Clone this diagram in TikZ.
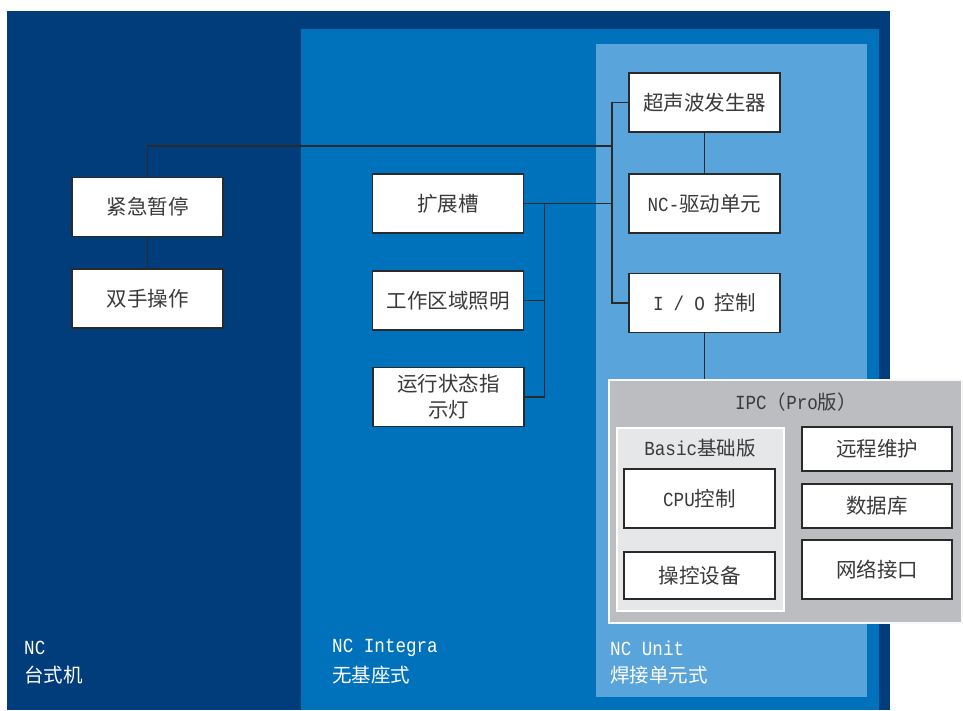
\documentclass[tikz,border=0pt]{standalone}
\usepackage{fontspec}
\setmainfont{Noto Sans CJK SC}
\newfontfamily\lat[FakeStretch=0.88]{Liberation Mono}
\definecolor{darkb}{HTML}{013D7B}
\definecolor{medb}{HTML}{0071BB}
\definecolor{lightb}{HTML}{59A4DA}
\definecolor{ipcgray}{HTML}{BCBDC0}
\definecolor{basicgray}{HTML}{E6E7E8}
\definecolor{boxline}{HTML}{2A2A2A}
\definecolor{txt}{HTML}{3A3A3A}
\newcommand{\lt}[1]{{\lat\fontsize{20}{22}\selectfont #1}}
\begin{document}
\begin{tikzpicture}[x=1pt,y=-1pt,
  box/.style={draw=boxline, fill=white, line width=1.4pt, inner sep=0pt,
    text=txt, font=\fontsize{20.5}{26}\selectfont, align=center,
    minimum width=151pt, minimum height=59pt},
  link/.style={draw=boxline, line width=1.4pt},
  lbl/.style={anchor=west, text=white, font=\fontsize{19.5}{22}\selectfont, inner sep=0pt},
  ttl/.style={text=txt, font=\fontsize{19.5}{22}\selectfont, inner sep=0pt}]
\useasboundingbox (0,0) rectangle (963,710);
\fill[white] (0,0) rectangle (963,710);
% panels
\fill[darkb] (7,11) rectangle (890,710);
\fill[medb] (301,29) rectangle (879,710);
\fill[lightb] (596,44) rectangle (867,697);

% left column
\node[box] (jj) at (147.5,207) {紧急暂停};
\node[box] (sh) at (147.5,298.5) {双手操作};
% middle column
\node[box] (kz) at (448,203.5) {扩展槽};
\node[box] (gz) at (448,300.5) {工作区域照明};
\node[box, font=\fontsize{20.5}{26}\selectfont] (yx) at (448.5,397) {运行状态指\\示灯};
% right column
\node[box] (cs) at (704.5,102.5) {超声波发生器};
\node[box] (nc) at (704.5,203.5) {\lt{NC-}驱动单元};
\node[box] (io) at (704.5,303) {\lt{I\hspace{10pt}/\hspace{10pt}O}\hspace{10pt}控制};

% IPC
\node[draw=white!90!ipcgray, fill=ipcgray, line width=1.5pt, minimum width=353pt, minimum height=243pt, inner sep=0pt] (ipc) at (785.5,501.5) {};
\node[ttl] (ipct) at (796,402) {\lt{IPC}（\lt{Pro}版）};
\node[draw=white, fill=basicgray, line width=1.5pt, minimum width=167pt, minimum height=183pt, inner sep=0pt] (basic) at (700.5,519.5) {};
\node[ttl] (basict) at (700,448) {\lt{Basic}基础版};
\node[box] (cpu) at (699.5,498.5) {\lt{CPU}控制};
\node[box, minimum height=47pt] (ck) at (699.5,575.5) {操控设备};
\node[box, minimum width=150pt, minimum height=44pt] (yc) at (877,449) {远程维护};
\node[box, minimum width=150pt, minimum height=44pt] (sj) at (877,506) {数据库};
\node[box, minimum width=150pt, minimum height=59pt] (wl) at (877,569.5) {网络接口};

% connectors
\coordinate (b1) at (612,146);
\coordinate (b2) at (544.5,204);
\draw[link] (jj.north) |- (b1);
\draw[link] (jj) -- (sh);
\draw[link] (cs.west) -- (cs.west -| b1) |- (io.west);
\draw[link] (kz.east) -- (kz.east -| b1);
\draw[link] (gz.east) -| (b2);
\draw[link] (yx.east) -| (b2);
\draw[link] (cs) -- (nc);
\draw[link] (io.south) -- (io.south |- ipc.north);

% bottom labels
\node[lbl] (l1a) at (24,648) {\lt{NC}};
\node[lbl] (l1b) at (24,675) {台式机};
\node[lbl] (l2a) at (332,648) {\lt{NC Integra}};
\node[lbl] (l2b) at (332,675) {无基座式};
\node[lbl] (l3a) at (610,648) {\lt{NC Unit}};
\node[lbl] (l3b) at (610,675) {焊接单元式};
\end{tikzpicture}
\end{document}
